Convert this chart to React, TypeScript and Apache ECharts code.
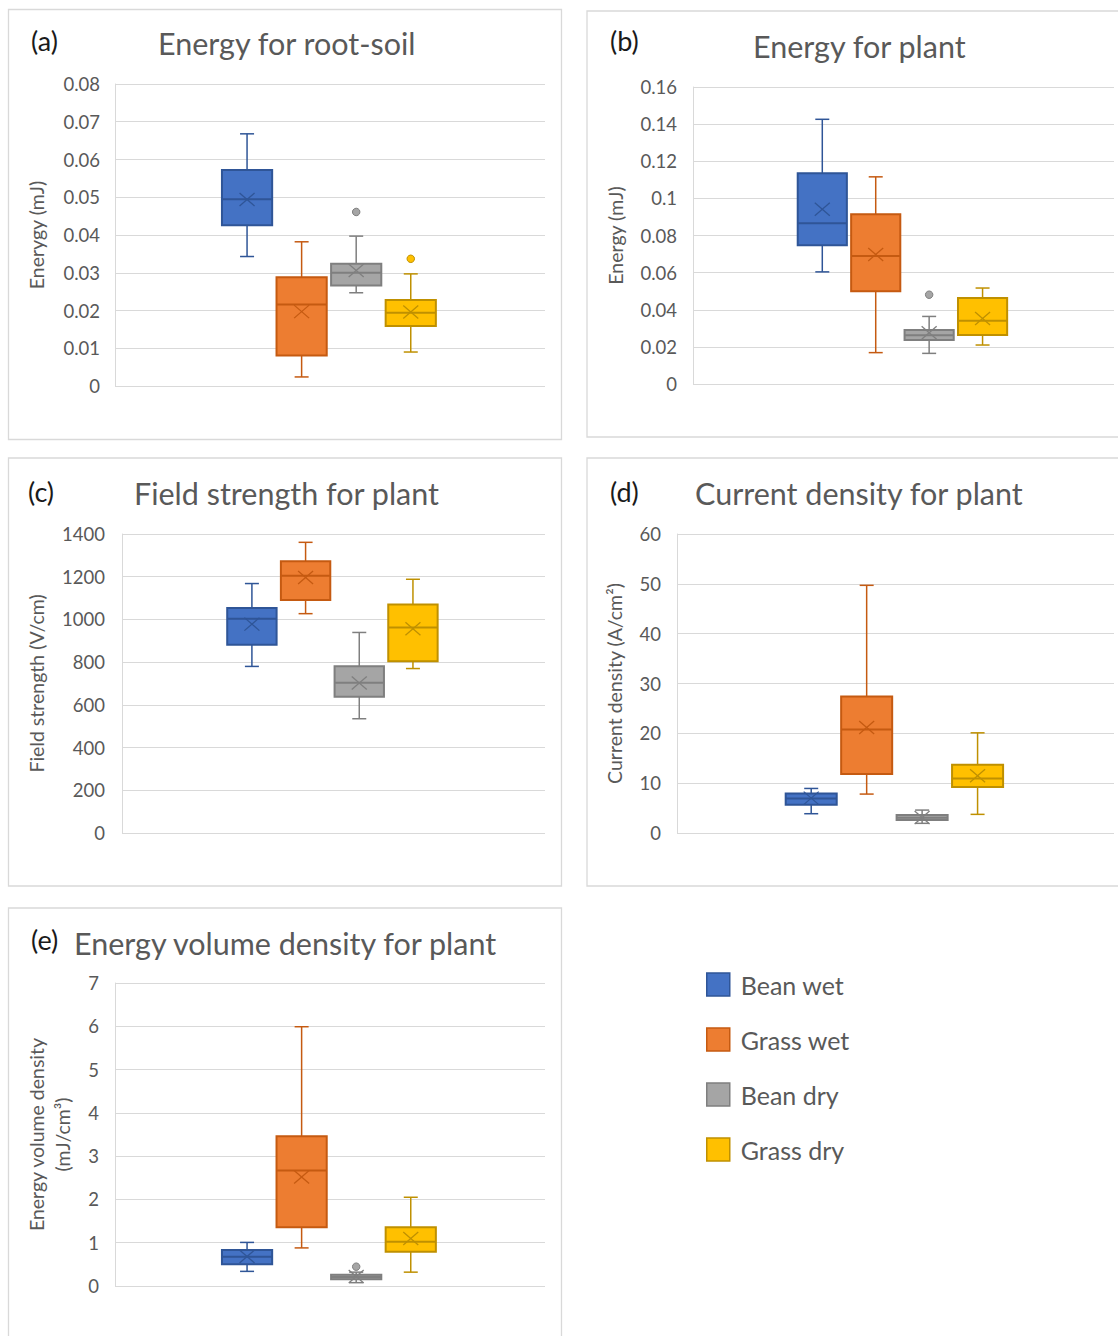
import React, { useEffect, useRef } from "react";
import * as echarts from "echarts";

// ---------- DATA ----------
const groups = ["Bean wet", "Grass wet", "Bean dry", "Grass dry"];

// each row: [lower whisker, Q1, median, Q3, upper whisker, mean]
const rootSoilEnergy = [
  [0.0343, 0.0426, 0.0495, 0.0572, 0.0668, 0.0494],
  [0.0024, 0.0081, 0.0216, 0.0288, 0.0382, 0.0197],
  [0.0247, 0.0266, 0.03, 0.0324, 0.0397, 0.0306],
  [0.009, 0.0159, 0.0194, 0.0228, 0.0297, 0.0196],
];
const rootSoilOutliers = [[], [], [0.0461], [0.0337]];

const plantEnergy = [
  [0.0604, 0.0748, 0.0866, 0.1135, 0.1426, 0.0942],
  [0.0169, 0.05, 0.0689, 0.0915, 0.1116, 0.0698],
  [0.0165, 0.0237, 0.0262, 0.0291, 0.0364, 0.0276],
  [0.021, 0.0264, 0.0341, 0.0463, 0.0517, 0.0353],
];
const plantEnergyOutliers = [[], [], [0.0481], []];

const fieldStrength = [
  [780, 881, 1003, 1054, 1168, 978],
  [1027, 1091, 1205, 1272, 1361, 1196],
  [535, 638, 703, 781, 939, 702],
  [770, 804, 962, 1070, 1188, 956],
];
const fieldStrengthOutliers = [[], [], [], []];

const currentDensity = [
  [3.87, 5.67, 6.94, 7.94, 8.94, 7.0],
  [7.81, 11.82, 20.76, 27.37, 49.7, 21.16],
  [1.94, 2.6, 3.07, 3.6, 4.6, 3.1],
  [3.74, 9.21, 10.95, 13.68, 20.1, 11.48],
];
const currentDensityOutliers = [[], [], [], []];

const energyVolume = [
  [0.338, 0.5, 0.676, 0.83, 1.007, 0.68],
  [0.88, 1.36, 2.67, 3.46, 5.99, 2.52],
  [0.077, 0.155, 0.21, 0.26, 0.32, 0.22],
  [0.32, 0.79, 1.02, 1.36, 2.05, 1.1],
];
const energyVolumeOutliers = [[], [], [0.446], []];

const panelLabels = ["(a)", "(b)", "(c)", "(d)", "(e)"];
const panelTitles = [
  "Energy for root-soil",
  "Energy for plant",
  "Field strength for plant",
  "Current density for plant",
  "Energy volume density for plant",
];
const yNames = [
  "Enerygy (mJ)",
  "Energy (mJ)",
  "Field strength (V/cm)",
  "Current density (A/cm²)",
  "Energy volume density\n(mJ/cm³)",
];
const yMax = [0.08, 0.16, 1400, 60, 7];
const yStep = [0.01, 0.02, 200, 10, 1];
const panelData = [rootSoilEnergy, plantEnergy, fieldStrength, currentDensity, energyVolume];
const panelOutliers = [
  rootSoilOutliers,
  plantEnergyOutliers,
  fieldStrengthOutliers,
  currentDensityOutliers,
  energyVolumeOutliers,
];

// ---------- LAYOUT / STYLE ----------
const FONT = "Lato, 'Noto Sans', sans-serif";
const fills = ["#4472C4", "#ED7D31", "#A5A5A5", "#FFC000"];
const strokes = ["#2F5597", "#C55A11", "#7F7F7F", "#BF9000"];
const TEXT = "#595959";
const GRIDC = "#D9D9D9";

const layout = [
  { grid: { left: 115, top: 84, width: 430, height: 302 }, nameGap: 65.5, tX: 158, tY: 43, lX: 31, lY: 40, lm: 15 },
  { grid: { left: 693, top: 87, width: 421, height: 297 }, nameGap: 65, tX: 753, tY: 45.5, lX: 610, lY: 40, lm: 16 },
  { grid: { left: 122, top: 534, width: 423, height: 299 }, nameGap: 72.5, tX: 134, tY: 492.5, lX: 28, lY: 491, lm: 17 },
  { grid: { left: 677, top: 534, width: 437, height: 299 }, nameGap: 49.5, tX: 695, tY: 493, lX: 610, lY: 491, lm: 16 },
  { grid: { left: 115, top: 983, width: 430, height: 303 }, nameGap: 39.5, tX: 74, tY: 943, lX: 31, lY: 939, lm: 16 },
];
const frames = [
  { x: 8.5, y: 9.5, w: 553, h: 430 },
  { x: 587, y: 11, w: 560, h: 426 },
  { x: 8.5, y: 458, w: 553, h: 428 },
  { x: 587, y: 458, w: 560, h: 428 },
  { x: 8.5, y: 908, w: 553, h: 460 },
];
const X_MIN = -2.42;
const X_MAX = 5.46;
const BOX_W = 0.92;
const TITLE_SIZE = 30.5;
const LABEL_SIZE = 27;
const NAME_SIZE = 19.5;

function makeRenderItem(fill: string, stroke: string) {
  return (params: any, api: any) => {
    const x = api.value(0);
    const pLo = api.coord([x, api.value(1)]);
    const cx = pLo[0];
    const yLo = pLo[1];
    const yQ1 = api.coord([x, api.value(2)])[1];
    const yMed = api.coord([x, api.value(3)])[1];
    const yQ3 = api.coord([x, api.value(4)])[1];
    const yHi = api.coord([x, api.value(5)])[1];
    const yMean = api.coord([x, api.value(6)])[1];
    const w = api.size([BOX_W, 0])[0];
    const half = w / 2;
    const cap = 7;
    const mx = 7.5;
    const my = 6.5;
    const thin = { stroke, lineWidth: 1.5 };
    return {
      type: "group",
      children: [
        { type: "line", shape: { x1: cx, y1: yHi, x2: cx, y2: yQ3 }, style: thin },
        { type: "line", shape: { x1: cx, y1: yQ1, x2: cx, y2: yLo }, style: thin },
        { type: "line", shape: { x1: cx - cap, y1: yHi, x2: cx + cap, y2: yHi }, style: thin },
        { type: "line", shape: { x1: cx - cap, y1: yLo, x2: cx + cap, y2: yLo }, style: thin },
        {
          type: "rect",
          shape: { x: cx - half, y: yQ3, width: w, height: yQ1 - yQ3 },
          style: { fill, stroke, lineWidth: 2 },
        },
        { type: "line", shape: { x1: cx - half, y1: yMed, x2: cx + half, y2: yMed }, style: { stroke, lineWidth: 2 } },
        { type: "line", shape: { x1: cx - mx, y1: yMean - my, x2: cx + mx, y2: yMean + my }, style: { stroke, lineWidth: 1.3 } },
        { type: "line", shape: { x1: cx - mx, y1: yMean + my, x2: cx + mx, y2: yMean - my }, style: { stroke, lineWidth: 1.3 } },
      ],
    };
  };
}

function buildOption() {
  const grids: any[] = [];
  const xAxes: any[] = [];
  const yAxes: any[] = [];
  const series: any[] = [];
  const titles: any[] = [];

  layout.forEach((L, i) => {
    grids.push({ ...L.grid, containLabel: false });
    xAxes.push({
      type: "value",
      gridIndex: i,
      min: X_MIN,
      max: X_MAX,
      show: false,
      splitLine: { show: false },
    });
    yAxes.push({
      type: "value",
      gridIndex: i,
      min: 0,
      max: yMax[i],
      interval: yStep[i],
      name: yNames[i],
      nameLocation: "middle",
      nameRotate: 90,
      nameGap: L.nameGap,
      nameTextStyle: { color: TEXT, fontSize: NAME_SIZE, fontFamily: FONT, lineHeight: 26 },
      axisLine: { show: true, onZero: false, lineStyle: { color: GRIDC, width: 1 } },
      axisTick: { show: false },
      axisLabel: {
        color: TEXT,
        fontSize: 18.5,
        fontFamily: FONT,
        margin: L.lm,
        formatter: (v: number) => String(+v.toFixed(6)),
      },
      splitLine: { show: true, lineStyle: { color: GRIDC, width: 1 } },
    });
    titles.push({
      text: panelLabels[i],
      left: L.lX,
      top: L.lY - LABEL_SIZE / 2,
      padding: 0,
      textStyle: { color: "#1a1a1a", fontSize: LABEL_SIZE, fontWeight: "normal", fontFamily: FONT },
    });
    titles.push({
      text: panelTitles[i],
      left: L.tX,
      top: L.tY - TITLE_SIZE / 2,
      padding: 0,
      textStyle: { color: TEXT, fontSize: TITLE_SIZE, fontWeight: "normal", fontFamily: FONT },
    });

    groups.forEach((g, k) => {
      series.push({
        type: "custom",
        name: g,
        xAxisIndex: i,
        yAxisIndex: i,
        encode: { x: 0, y: [1, 2, 3, 4, 5, 6] },
        itemStyle: { color: fills[k], borderColor: strokes[k] },
        renderItem: makeRenderItem(fills[k], strokes[k]),
        data: [[k, ...panelData[i][k]]],
        z: 2,
      });
      const outs = panelOutliers[i][k];
      if (outs.length) {
        series.push({
          type: "scatter",
          name: g,
          xAxisIndex: i,
          yAxisIndex: i,
          symbol: "circle",
          symbolSize: 7.5,
          itemStyle: { color: fills[k], borderColor: strokes[k], borderWidth: 1, opacity: 1 },
          data: outs.map((v) => [k, v]),
          z: 3,
        });
      }
    });
  });

  const graphics = frames.map((f) => ({
    type: "rect",
    shape: { x: f.x, y: f.y, width: f.w, height: f.h },
    style: { fill: "none", stroke: GRIDC, lineWidth: 1.3 },
    z: -10,
    silent: true,
  }));

  return {
    animation: false,
    backgroundColor: "#ffffff",
    textStyle: { fontFamily: FONT },
    title: titles,
    grid: grids,
    xAxis: xAxes,
    yAxis: yAxes,
    graphic: graphics,
    legend: {
      orient: "vertical",
      left: 706,
      top: 972,
      padding: 0,
      itemWidth: 23,
      itemHeight: 23,
      itemGap: 30,
      selectedMode: false,
      textStyle: { color: TEXT, fontSize: 25, fontFamily: FONT, padding: [0, 0, 0, 6] },
      data: groups.map((g, k) => ({
        name: g,
        icon: "rect",
        itemStyle: { color: fills[k], borderColor: strokes[k], borderWidth: 1.5 },
      })),
    },
    series,
  };
}

export default function App() {
  const ref = useRef<HTMLDivElement>(null);
  useEffect(() => {
    document.body.style.margin = "0";
    if (!ref.current) return;
    const chart = echarts.init(ref.current, undefined, { renderer: "svg" });
    chart.setOption(buildOption() as any);
    return () => {
      chart.dispose();
    };
  }, []);
  return <div ref={ref} style={{ width: 1118, height: 1336 }} />;
}
